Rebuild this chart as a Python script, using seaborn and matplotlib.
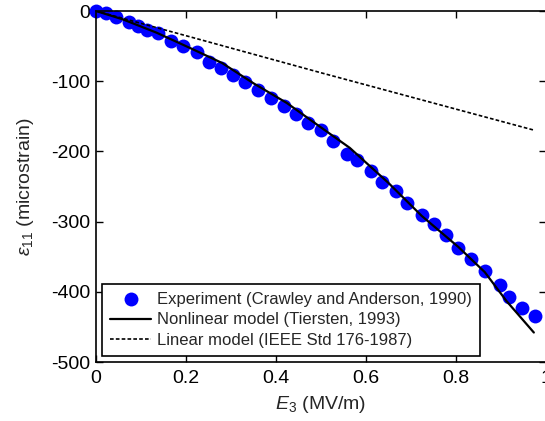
import matplotlib
matplotlib.use("Agg")
import matplotlib.pyplot as plt
import seaborn as sns
import pandas as pd

# ---- data ----
exp_E3 = [0.0, 0.022, 0.044, 0.074, 0.094, 0.114, 0.137, 0.167, 0.194, 0.225,
          0.252, 0.278, 0.305, 0.331, 0.361, 0.388, 0.418, 0.444, 0.470, 0.501,
          0.526, 0.557, 0.579, 0.610, 0.636, 0.667, 0.692, 0.724, 0.750, 0.778,
          0.804, 0.833, 0.864, 0.898, 0.918, 0.946, 0.976]
exp_eps = [0, -3.3, -9, -15, -22, -27, -32, -42.7, -50, -59,
           -72, -81, -91, -100.5, -112, -124, -136, -146.5, -159, -170,
           -185, -203, -212, -228.5, -243, -257, -273.5, -290, -304, -318.5,
           -337.5, -353, -371, -390, -407, -423, -434]

nl_E3 = [0.0, 0.06, 0.135, 0.21, 0.28, 0.35, 0.424, 0.498, 0.564, 0.65,
         0.724, 0.805, 0.864, 0.912, 0.973]
nl_eps = [0, -12, -31, -53, -74, -103, -131, -165, -195, -245,
          -292, -336, -372, -413, -458]

lin_E3 = [0.0, 0.5, 0.975]
lin_eps = [0, -88, -170]

labels = ["Experiment (Crawley and Anderson, 1990)",
          "Nonlinear model (Tiersten, 1993)",
          "Linear model (IEEE Std 176-1987)"]
xticks = [0, 0.2, 0.4, 0.6, 0.8, 1]
xticklabels = ["0", "0.2", "0.4", "0.6", "0.8", "1"]
yticks = [-500, -400, -300, -200, -100, 0]
yticklabels = ["-500", "-400", "-300", "-200", "-100", "0"]

sns.set_style("ticks")
plt.rcParams["font.family"] = ["Liberation Sans", "DejaVu Sans"]
plt.rcParams["axes.unicode_minus"] = False
plt.rcParams["mathtext.fontset"] = "custom"
plt.rcParams["mathtext.rm"] = "Liberation Sans"
plt.rcParams["mathtext.it"] = "Liberation Sans:italic"

df_exp = pd.DataFrame({"E3": exp_E3, "eps": exp_eps})
df_nl = pd.DataFrame({"E3": nl_E3, "eps": nl_eps})
df_lin = pd.DataFrame({"E3": lin_E3, "eps": lin_eps})

fig = plt.figure(figsize=(5.45, 4.21), dpi=100)
ax = fig.add_axes([96 / 545, 59 / 421, 450 / 545, 351 / 421])

sns.scatterplot(data=df_exp, x="E3", y="eps", ax=ax, s=100, color="#0000ff",
                edgecolor="#0000ff", linewidth=0, label=labels[0], zorder=2,
                clip_on=False)
sns.lineplot(data=df_nl, x="E3", y="eps", ax=ax, color="black", lw=1.6,
             sort=False, estimator=None, label=labels[1], zorder=3)
sns.lineplot(data=df_lin, x="E3", y="eps", ax=ax, color="black", lw=1.2,
             sort=False, estimator=None, label=labels[2], zorder=3,
             dashes=False)
ax.lines[-1].set_linestyle((0, (2.2, 1.3)))

ax.set_xlim(0, 1)
ax.set_ylim(-500, 0)
ax.set_xticks(xticks)
ax.set_xticklabels(xticklabels)
ax.set_yticks(yticks)
ax.set_yticklabels(yticklabels)
ax.tick_params(direction="in", top=True, right=True, length=5, width=1,
               labelsize=14, colors="black")
ax.tick_params(axis="x", pad=6)
ax.tick_params(axis="y", pad=4)
for sp in ax.spines.values():
    sp.set_visible(True)
    sp.set_linewidth(1.2)
    sp.set_color("black")

ax.set_xlabel(r"$E_{\mathit{3}}$ (MV/m)", fontsize=14, labelpad=5)
ax.set_ylabel(r"$\varepsilon_{\mathit{11}}$ (microstrain)", fontsize=14,
              labelpad=11)

leg = ax.legend(loc="lower left", bbox_to_anchor=(0.014, 0.018),
                borderaxespad=0, fontsize=12, frameon=True, fancybox=False,
                edgecolor="black", framealpha=1, handlelength=2.5,
                handletextpad=0.35, labelspacing=0.35, borderpad=0.45,
                markerscale=1.0)
leg.get_frame().set_linewidth(1.2)

fig.savefig("out.png", dpi=100)
